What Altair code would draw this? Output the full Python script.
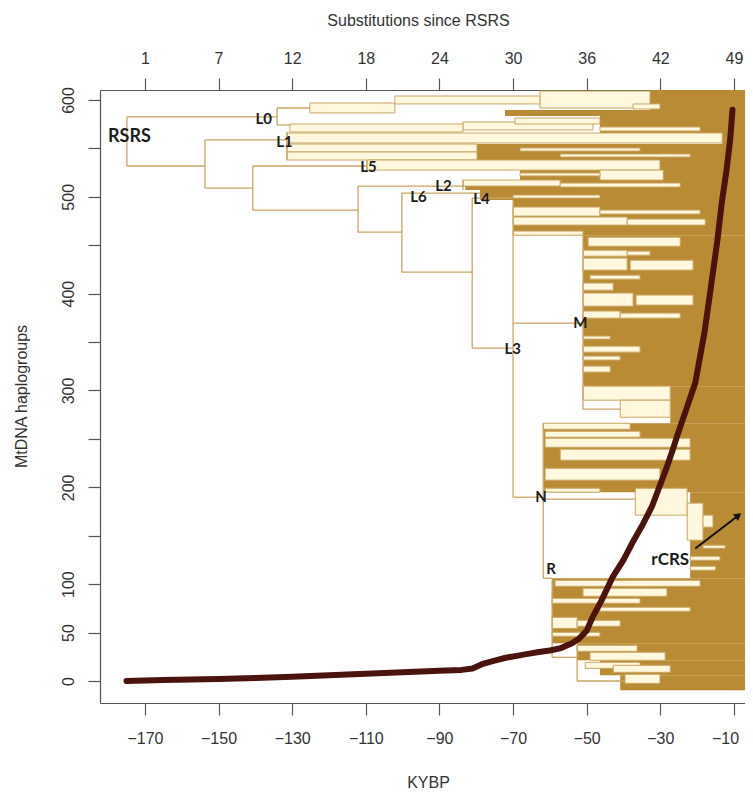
import altair as alt
import pandas as pd

# ---------------- data ----------------
# bottom axis (KYBP) ticks and the matching top-axis labels (substitutions since RSRS)
kybp_ticks = [-170, -150, -130, -110, -90, -70, -50, -30, -10]
subst_labels = ["1", "7", "12", "18", "24", "30", "36", "42", "49"]
y_ticks = [0, 50, 100, 150, 200, 250, 300, 350, 400, 450, 500, 550, 600]
y_labelled = [0, 50, 100, 200, 300, 400, 500, 600]

# dense (tan) clade blocks: start KYBP -> present
tan_x1 = [-32.8, -72.2, -46.4, -13.2, -79.8, -30.1, -68.1, -83.0, -79.0, -70.0,
          -51.0, -27.3, -61.8, -21.9, -59.4, -52.6, -46.4, -40.9]
tan_x2 = [0] * 18
tan_ylo = [589.7, 583.5, 565.9, 554.5, 538.0, 527.6, 517.3, 507.0, 496.7, 460.4,
           304.5, 266.2, 195.0, 106.1, 39.0, 21.4, 5.9, -9.6]
tan_yhi = [610.3, 589.7, 583.5, 565.9, 554.5, 538.0, 527.6, 517.3, 507.0, 496.7,
           460.4, 304.5, 266.2, 195.0, 106.1, 39.0, 21.4, 5.9]

# open (cream) sub-clade boxes
cream_x1 = [-62.7, -102.1, -125.2, -37.4, -83.6, -69.5, -130.6, -46.4, -131.4, -131.4,
            -131.4, -68.1, -57.2, -109.7, -46.4, -68.1, -83.6, -57.2, -70.0, -70.0,
            -46.4, -70.0, -39.0, -70.0, -49.6, -51.0, -39.0, -51.0, -38.2, -49.1,
            -51.0, -51.0, -36.6, -51.0, -40.9, -51.0, -51.0, -51.0, -51.0, -51.0,
            -40.9, -61.8, -61.3, -61.3, -57.2, -61.3, -61.3, -36.8, -22.7, -18.4,
            -18.4, -21.9, -21.9, -58.6, -51.0, -59.4, -46.4, -59.4, -52.6, -59.4,
            -52.6, -49.1, -50.4, -42.8, -39.6]
cream_x2 = [-32.8, -62.7, -102.1, -30.1, -48.3, -46.4, -83.6, -19.2, -13.2, -79.8,
            -79.8, -35.5, -21.9, -30.1, -29.2, -46.4, -57.2, -24.6, -46.4, -46.4,
            -19.2, -39.0, -17.8, -51.0, -24.6, -39.0, -32.8, -39.0, -21.1, -35.5,
            -42.8, -37.4, -21.1, -40.9, -24.6, -43.6, -35.5, -40.9, -43.6, -27.3,
            -27.3, -38.2, -35.5, -21.9, -21.9, -30.1, -46.4, -22.7, -18.4, -15.7,
            -12.4, -13.8, -15.0, -19.2, -28.2, -35.5, -21.9, -52.6, -40.9, -46.4,
            -36.3, -28.7, -35.5, -27.3, -30.1]
cream_ylo = [591.7, 595.9, 586.6, 590.7, 569.0, 575.2, 566.9, 568.0, 555.6, 546.3,
             538.0, 547.3, 541.1, 527.6, 517.3, 521.6, 511.1, 510.1, 498.7, 480.1,
             482.2, 470.8, 470.8, 460.4, 449.0, 438.7, 439.7, 424.3, 424.3, 415.0,
             403.6, 387.1, 388.2, 374.7, 374.7, 353.1, 339.6, 331.4, 319.0, 290.0,
             272.4, 260.0, 251.8, 241.4, 228.0, 207.4, 195.0, 171.3, 145.4, 158.9,
             137.1, 124.7, 114.4, 97.8, 87.5, 80.3, 72.0, 54.4, 56.5, 46.2,
             30.7, 21.4, 13.1, 9.0, -2.4]
cream_yhi = [609.2, 604.1, 596.9, 595.9, 577.3, 581.4, 575.2, 572.1, 565.9, 554.5,
             546.3, 550.4, 544.2, 538.0, 527.6, 524.6, 517.3, 514.2, 501.8, 489.4,
             486.3, 479.1, 477.0, 464.6, 458.3, 444.9, 443.9, 436.7, 434.6, 419.1,
             410.9, 400.6, 398.5, 382.0, 379.9, 356.2, 345.8, 335.5, 325.2, 304.5,
             290.0, 266.2, 257.9, 250.7, 239.4, 219.7, 199.1, 199.1, 183.7, 171.3,
             140.2, 128.8, 118.5, 104.0, 95.8, 85.4, 76.2, 65.8, 62.7, 50.3,
             36.9, 29.7, 19.3, 16.2, 6.9]

# backbone branches of the tree
br_x1 = [-174.9, -174.9, -134.1, -134.1, -134.1, -174.9, -153.7, -153.7, -131.4, -153.7,
         -140.7, -140.7, -109.7, -140.7, -112.1, -112.1, -83.6, -112.1, -100.2, -100.2,
         -100.2, -81.1, -81.1, -81.1, -70.0, -70.0, -51.0, -51.0, -70.0, -61.8,
         -61.8, -61.8, -59.4, -59.4, -52.6, -52.6]
br_x2 = [-174.9, -134.1, -134.1, -125.2, -130.6, -153.7, -153.7, -131.4, -131.4, -140.7,
         -140.7, -109.7, -109.7, -112.1, -112.1, -83.6, -83.6, -100.2, -100.2, -79.0,
         -81.1, -81.1, -70.0, -70.0, -70.0, -51.0, -51.0, -40.9, -61.8, -61.8,
         -36.8, -59.4, -59.4, -52.6, -52.6, -39.6]
br_y1 = [531.8, 582.5, 574.2, 591.7, 574.2, 531.8, 509.0, 558.7, 538.0, 509.0,
         486.3, 531.8, 527.6, 486.3, 463.5, 511.1, 507.0, 463.5, 422.2, 503.9,
         422.2, 343.7, 498.7, 343.7, 189.8, 369.6, 280.7, 280.7, 189.8, 106.1,
         187.8, 106.1, 24.5, 24.5, 0.0, 0.0]
br_y2 = [582.5, 582.5, 591.7, 591.7, 574.2, 531.8, 558.7, 558.7, 566.9, 509.0,
         531.8, 531.8, 538.0, 486.3, 511.1, 511.1, 517.3, 463.5, 503.9, 503.9,
         422.2, 498.7, 498.7, 343.7, 496.7, 369.6, 460.4, 280.7, 189.8, 266.2,
         187.8, 106.1, 104.0, 24.5, 36.9, 0.0]

# cumulative haplogroup count through time
curve_kybp = [-175, -165, -150, -140, -130, -120, -110, -100, -90, -84, -81, -78, -75, -72,
              -69, -66, -63, -60, -57, -54, -52, -50, -48.4, -46, -43, -40, -37.7, -35,
              -32.3, -30.5, -28.5, -26.7, -25, -23, -20.5, -18, -16, -14.5, -13.3, -12,
              -11, -10.4]
curve_count = [0, 1, 2, 3, 4.5, 6, 7.5, 9, 10.5, 11.5, 13, 18, 21, 24,
               26, 28, 30, 31.5, 34, 39, 44, 52, 66, 83, 107, 125, 142, 160,
               180, 198, 218, 238, 258, 280, 308, 360, 414, 455, 494, 528,
               560, 590]

# node labels
lab_text = ["RSRS", "L0", "L1", "L5", "L6", "L2", "L4", "L3", "M", "N", "R", "rCRS"]
lab_x = [-174.2, -137.7, -132.1, -109.3, -95.7, -88.9, -78.6, -70.1, -51.7, -62.4, -59.7, -27.3]
lab_y = [561.3, 580.4, 556.1, 530.8, 499.8, 511.2, 497.7, 343.3, 370.0, 189.8, 115.4, 125.2]
lab_size = [18, 15, 15, 15, 15, 15, 15, 15, 15, 15, 15, 17]

# rCRS arrow
arrow_x = [-20.5, -8.8]
arrow_y = [136.8, 171.0]

# ---------------- styling ----------------
TAN = "#B98B35"
CREAM = "#FFF8DE"
LINE = "#C9A664"
DARK = "#4A130D"
AX = "#555555"
TXT = "#333333"
AXFONT = "Liberation Sans"

xs = alt.Scale(domain=[-182.2, -7.0], nice=False, zero=False)
ys = alt.Scale(domain=[-22.7, 610.3], nice=False, zero=False)

top_expr = "[" + ",".join("'%s'" % s for s in subst_labels) + "][round((datum.value - (%d)) / 20)]" % kybp_ticks[0]
left_expr = "indexof([" + ",".join(str(v) for v in y_labelled) + "], datum.value) >= 0 ? datum.label : ''"

common = dict(tickSize=12, tickColor=AX, tickWidth=1.2, domainColor=AX, domainWidth=1.2,
              labelFont=AXFONT, labelFontSize=16, labelColor=TXT, grid=False,
              titleFont=AXFONT, titleFontSize=16, titleFontWeight="normal", titleColor=TXT,
              labelFlush=False, labelOverlap=False)

# last bottom label nudged left so that it stays inside the page
last_tick_test = "datum.value == %d" % kybp_ticks[-1]
bottom_axis = alt.Axis(orient="bottom", values=kybp_ticks, labelPadding=15, title="KYBP",
                       labelOffset={"condition": {"test": last_tick_test, "value": -9}, "value": 0},
                       titleX=328, titleY=79, titleAlign="center", titleBaseline="middle", **common)
top_axis = alt.Axis(orient="top", values=kybp_ticks, labelPadding=12, labelExpr=top_expr,
                    title="Substitutions since RSRS", titleX=318, titleY=-70,
                    titleAlign="center", titleBaseline="middle", **common)
left_axis = alt.Axis(orient="left", values=y_ticks, labelExpr=left_expr, labelAngle=270,
                     labelAlign="center", labelBaseline="bottom", labelPadding=12,
                     title="MtDNA haplogroups", titleAngle=270, titleX=-79, titleY=306,
                     titleAlign="center", titleBaseline="middle", **common)

tan_df = pd.DataFrame({"x1": tan_x1, "x2": tan_x2, "ylo": tan_ylo, "yhi": tan_yhi})
cream_df = pd.DataFrame({"x1": cream_x1, "x2": cream_x2, "ylo": cream_ylo, "yhi": cream_yhi})
br_df = pd.DataFrame({"x1": br_x1, "x2": br_x2, "y1": br_y1, "y2": br_y2})
curve_df = pd.DataFrame({"kybp": curve_kybp, "count": curve_count})
lab_df = pd.DataFrame({"t": lab_text, "x": lab_x, "y": lab_y, "s": lab_size})
arrow_df = pd.DataFrame({"x": [arrow_x[0]], "x2": [arrow_x[1]], "y": [arrow_y[0]], "y2": [arrow_y[1]]})
head_df = pd.DataFrame({"x": [arrow_x[1]], "y": [arrow_y[1]]})

tan = alt.Chart(tan_df).mark_rect(color=TAN, clip=True).encode(
    x=alt.X("x1:Q", scale=xs, axis=bottom_axis), x2="x2:Q",
    y=alt.Y("ylo:Q", scale=ys, axis=left_axis), y2="yhi:Q")

cream = alt.Chart(cream_df).mark_rect(fill=CREAM, stroke=LINE, strokeWidth=1, clip=True).encode(
    x=alt.X("x1:Q", scale=xs, axis=None), x2="x2:Q",
    y=alt.Y("ylo:Q", scale=ys, axis=None), y2="yhi:Q")

branches = alt.Chart(br_df).mark_rule(color=LINE, strokeWidth=1.3, clip=True).encode(
    x=alt.X("x1:Q", scale=xs, axis=None), x2="x2:Q",
    y=alt.Y("y1:Q", scale=ys, axis=None), y2="y2:Q")

curve = alt.Chart(curve_df).mark_line(color=DARK, strokeWidth=6, strokeCap="round",
                                      strokeJoin="round", clip=True).encode(
    x=alt.X("kybp:Q", scale=xs, axis=top_axis),
    y=alt.Y("count:Q", scale=ys, axis=None), order="kybp:Q")

labels = alt.Chart(lab_df).mark_text(font="Lato", fontWeight="bold", color="#1c1c1c",
                                     align="center", baseline="middle").encode(
    x=alt.X("x:Q", scale=xs, axis=None), y=alt.Y("y:Q", scale=ys, axis=None),
    text="t:N", size=alt.Size("s:Q", scale=None, legend=None))

arrow = alt.Chart(arrow_df).mark_rule(color="#111111", strokeWidth=2).encode(
    x=alt.X("x:Q", scale=xs, axis=None), x2="x2:Q",
    y=alt.Y("y:Q", scale=ys, axis=None), y2="y2:Q")

head = alt.Chart(head_df).mark_point(shape="triangle-up", filled=True, color="#111111",
                                     size=70, angle=53, opacity=1).encode(
    x=alt.X("x:Q", scale=xs, axis=None), y=alt.Y("y:Q", scale=ys, axis=None))

chart = alt.layer(tan, cream, branches, curve, labels, arrow, head).resolve_axis(
    x="independent", y="independent"
).properties(
    width=645, height=613,
    padding={"left": 92, "top": 82, "right": 0, "bottom": 86},
    autosize=alt.AutoSizeParams(type="none"),
).configure_view(stroke=None)

chart.save("out.html", embed_options={"renderer": "svg", "actions": False})
